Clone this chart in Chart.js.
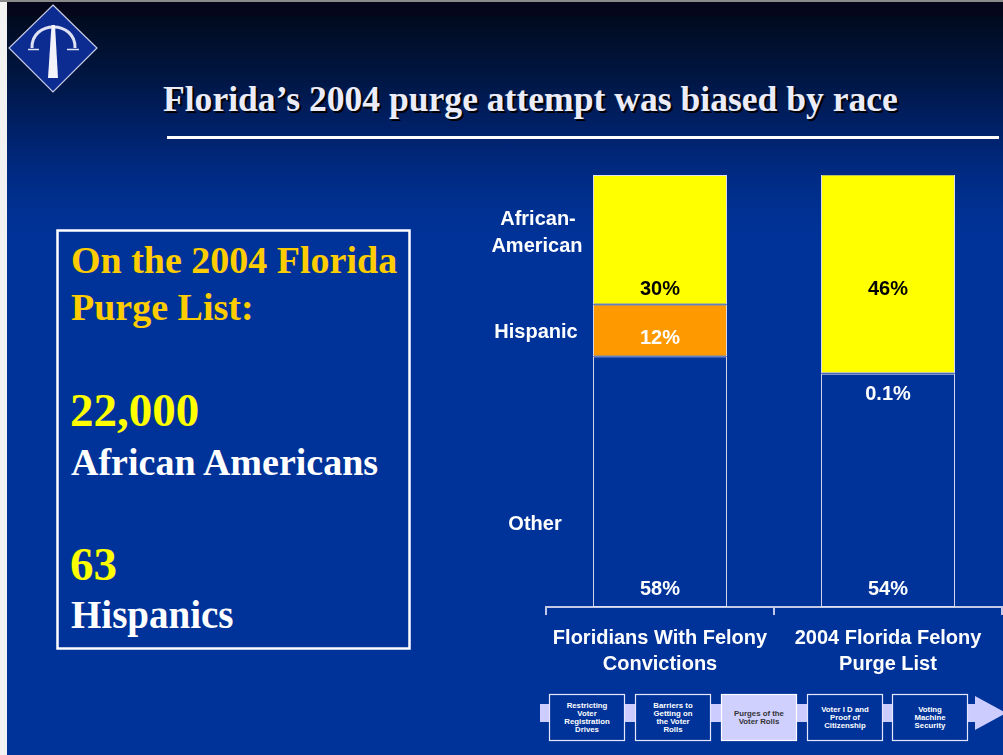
<!DOCTYPE html>
<html>
<head>
<meta charset="utf-8">
<script src="https://cdn.jsdelivr.net/npm/chart.js@4"></script>
<style>
  html, body { margin: 0; padding: 0; background: #f2f2f2; }
  body { width: 1003px; height: 755px; position: relative; overflow: hidden; }
  #topline { position: absolute; left: 0; top: 0; width: 1003px; height: 2px; background: #8a8a8a; }
  #slide {
    position: absolute; left: 7px; top: 2px; width: 996px; height: 753px;
    background: linear-gradient(to bottom, #05061a 0px, #05061a 13px, #010b1e 15px, #00153f 70px,
      #001f63 120px, #002a82 170px, #003192 210px, #003399 240px, #003399 100%);
  }
  #deco { position: absolute; left: 0; top: 0; }
  #chartBox { position: absolute; left: 480px; top: 160px; width: 523px; height: 530px; }
</style>
</head>
<body>
<div id="topline"></div>
<div id="slide"></div>

<svg id="deco" width="1003" height="755" xmlns="http://www.w3.org/2000/svg">
  <!-- logo -->
  <polygon points="53,5 97,48 53,92 9,48" fill="#0d2c92" stroke="#c9cde6" stroke-width="1.2"/>
  <path d="M32,48 C31,20 76,20 75,48" fill="none" stroke="#dfe2f2" stroke-width="3"/>
  <line x1="28" y1="49.5" x2="39" y2="49.5" stroke="#dfe2f2" stroke-width="1.5"/>
  <line x1="67" y1="49.5" x2="79" y2="49.5" stroke="#dfe2f2" stroke-width="1.5"/>
  <polygon points="51.5,25 55,25 58,78 48,78" fill="#f2f3fb"/>

  <!-- title -->
  <g font-family="'Liberation Serif', 'Times New Roman', serif" font-weight="bold" font-size="35.6">
    <text x="165" y="113" fill="#000000">Florida’s 2004 purge attempt was biased by race</text>
    <text x="163" y="111" fill="#ececf9">Florida’s 2004 purge attempt was biased by race</text>
  </g>
  <rect x="167" y="136" width="832" height="3" fill="#ffffff"/>

  <!-- left text box -->
  <rect x="57.5" y="230.5" width="352" height="418" fill="none" stroke="#ffffff" stroke-width="2.5"/>
  <g font-family="'Liberation Serif', 'Times New Roman', serif" font-weight="bold">
    <text x="71" y="273" font-size="38" fill="#ffcc00">On the 2004 Florida</text>
    <text x="71" y="320" font-size="38" fill="#ffcc00">Purge List:</text>
    <text x="70" y="426" font-size="47" fill="#ffff00">22,000</text>
    <text x="71" y="475" font-size="38" fill="#ffffff">African Americans</text>
    <text x="70" y="580" font-size="47" fill="#ffff00">63</text>
    <text x="71" y="628" font-size="39" fill="#ffffff">Hispanics</text>
  </g>

  <!-- process bar -->
  <rect x="540" y="704" width="440" height="18" fill="#ccccff"/>
  <polygon points="975,696 1006,713 975,730" fill="#ccccff"/>
  <g font-family="'Liberation Sans', Arial, sans-serif" font-weight="bold" font-size="7.8" text-anchor="middle">
    <rect x="549.5" y="694.5" width="75" height="46" fill="#003399" stroke="#e6e6ff" stroke-width="1.2"/>
    <text x="587" y="707.8" fill="#fff">Restricting</text>
    <text x="587" y="716" fill="#fff">Voter</text>
    <text x="587" y="724.2" fill="#fff">Registration</text>
    <text x="587" y="732.4" fill="#fff">Drives</text>

    <rect x="635.5" y="694.5" width="75" height="46" fill="#003399" stroke="#e6e6ff" stroke-width="1.2"/>
    <text x="673" y="707.8" fill="#fff">Barriers to</text>
    <text x="673" y="716" fill="#fff">Getting on</text>
    <text x="673" y="724.2" fill="#fff">the Voter</text>
    <text x="673" y="732.4" fill="#fff">Rolls</text>

    <rect x="721.5" y="694.5" width="75" height="46" fill="#d0d0ff" stroke="#ffffff" stroke-width="1.2"/>
    <text x="759" y="716" fill="#333333">Purges of the</text>
    <text x="759" y="724.2" fill="#333333">Voter Rolls</text>

    <rect x="807.5" y="694.5" width="75" height="46" fill="#003399" stroke="#e6e6ff" stroke-width="1.2"/>
    <text x="845" y="711.8" fill="#fff">Voter I D and</text>
    <text x="845" y="720" fill="#fff">Proof of</text>
    <text x="845" y="728.2" fill="#fff">Citizenship</text>

    <rect x="892.5" y="694.5" width="75" height="46" fill="#003399" stroke="#e6e6ff" stroke-width="1.2"/>
    <text x="930" y="711.8" fill="#fff">Voting</text>
    <text x="930" y="720" fill="#fff">Machine</text>
    <text x="930" y="728.2" fill="#fff">Security</text>
  </g>
</svg>

<div id="chartBox"><canvas id="raceChart" width="523" height="530"></canvas></div>

<script>
// chart data
const categories = [["Floridians With Felony", "Convictions"], ["2004 Florida Felony", "Purge List"]];
const otherPct = [58, 54];
const hispanicPct = [12, 0.1];
const africanAmericanPct = [30, 46];
const seriesNames = [["Other"], ["Hispanic"], ["African-", "American"]];

const barFont = "bold 20px 'Liberation Sans', Arial, sans-serif";

// percentage labels inside the bars + series names on the left
const labelPlugin = {
  id: "segmentLabels",
  afterDatasetsDraw(chart) {
    const ctx = chart.ctx;
    const yScale = chart.scales.y;
    ctx.save();
    ctx.font = barFont;
    ctx.textAlign = "center";
    ctx.textBaseline = "middle";

    chart.data.datasets.forEach((ds, i) => {
      const meta = chart.getDatasetMeta(i);
      meta.data.forEach((bar, j) => {
        const top = Math.min(bar.y, bar.base);
        const bottom = Math.max(bar.y, bar.base);
        let y;
        if (i === 0) {
          y = bottom - 18;
        } else if (i === 1) {
          y = (bottom - top) > 20 ? (top + bottom) / 2 + 8 : top + 21;
        } else {
          y = yScale.getPixelForValue(73.5);
        }
        ctx.fillStyle = i === 2 ? "#000000" : "#ffffff";
        ctx.fillText(ds.data[j] + "%", bar.x, y);
      });

      // series name, next to the first bar
      const first = meta.data[0];
      const mid = (first.y + first.base) / 2;
      const lines = seriesNames[i];
      const x = chart.chartArea.left - 9;
      ctx.fillStyle = "#ffffff";
      if (i === 0) {
        ctx.fillText(lines[0], x - 2, mid + 43);
      } else if (i === 1) {
        ctx.fillText(lines[0], x - 1, mid + 2);
      } else {
        ctx.fillText(lines[0], x + 1, mid - 20);
        ctx.fillText(lines[1], x, mid + 7);
      }
    });
    ctx.restore();
  }
};

const barStyle = {
  borderColor: "#dfe1f2",
  borderWidth: 1,
  borderSkipped: false,
  barPercentage: 0.588,
  categoryPercentage: 1
};

new Chart(document.getElementById("raceChart"), {
  type: "bar",
  data: {
    labels: categories,
    datasets: [
      Object.assign({ label: seriesNames[0].join(""), data: otherPct, backgroundColor: "#003399" }, barStyle),
      Object.assign({ label: seriesNames[1].join(""), data: hispanicPct, backgroundColor: "#ff9900" }, barStyle),
      Object.assign({ label: seriesNames[2].join(""), data: africanAmericanPct, backgroundColor: "#ffff00" }, barStyle)
    ]
  },
  options: {
    responsive: false,
    devicePixelRatio: 1,
    animation: false,
    layout: { padding: { left: 66, right: 1, top: 15, bottom: 3 } },
    plugins: {
      legend: { display: false },
      tooltip: { enabled: false }
    },
    scales: {
      x: {
        stacked: true,
        grid: {
          offset: true,
          drawOnChartArea: false,
          drawTicks: true,
          tickLength: 8,
          color: "#c4c8e4",
          lineWidth: 2
        },
        border: { display: true, color: "#c4c8e4", width: 2 },
        ticks: {
          color: "#ffffff",
          font: { family: "'Liberation Sans', Arial, sans-serif", size: 20, weight: "bold", lineHeight: 1.3 },
          padding: 10,
          maxRotation: 0,
          autoSkip: false
        }
      },
      y: {
        stacked: true,
        display: false,
        min: 0,
        max: 100
      }
    }
  },
  plugins: [labelPlugin]
});
</script>
</body>
</html>
